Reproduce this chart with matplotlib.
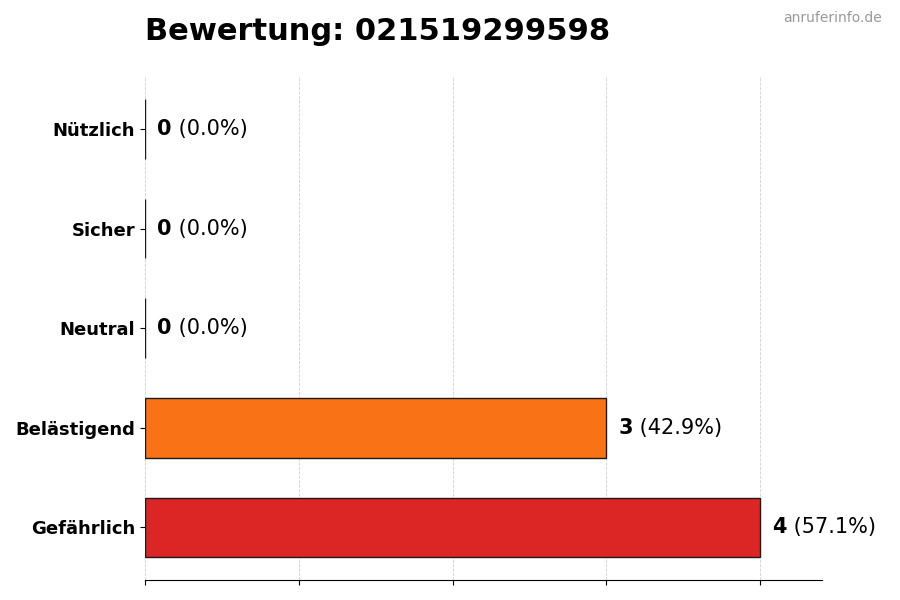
import matplotlib
matplotlib.use("Agg")
import matplotlib.pyplot as plt

categories = ["Gefährlich", "Belästigend", "Neutral", "Sicher", "Nützlich"]
counts = [4, 3, 0, 0, 0]
colors = ["#dc2626", "#f97316", "#9ca3af", "#22c55e", "#3b82f6"]
number = "021519299598"

total = sum(counts)

fig = plt.figure(figsize=(9, 6), dpi=100)
ax = fig.add_axes([0.161, 0.033, 0.752, 0.84])

ypos = list(range(len(categories)))
ax.barh(ypos, counts, height=0.6, color=colors, edgecolor="#1a1a1a", linewidth=1.0, zorder=2)

ax.set_yticks(ypos)
ax.set_yticklabels(categories, fontsize=13, fontweight="bold")
ax.set_xticks(range(0, max(counts) + 1))
ax.set_xticklabels([])
ax.set_xlim(0, max(counts) * 1.1)
ax.grid(axis="x", linestyle="--", color="#bbbbbb", alpha=0.7, linewidth=0.6, zorder=0)
ax.set_axisbelow(True)
for side in ("top", "right", "left"):
    ax.spines[side].set_visible(False)

fig.canvas.draw()
renderer = fig.canvas.get_renderer()
for y, c in zip(ypos, counts):
    pct = c / total * 100 if total else 0
    t1 = ax.text(c + 0.08, y, str(c), va="center", ha="left", fontsize=15, fontweight="bold")
    bb = t1.get_window_extent(renderer)
    x2 = ax.transData.inverted().transform((bb.x1, 0))[0]
    ax.text(x2, y, f" ({pct:.1f}%)", va="center", ha="left", fontsize=15)

fig.text(0.161, 0.948, f"Bewertung: {number}", fontsize=22, fontweight="bold", ha="left", va="center")
fig.text(0.98, 0.97, "anruferinfo.de", fontsize=10, color="#999999", ha="right", va="center")

fig.savefig("out.png", dpi=100)
